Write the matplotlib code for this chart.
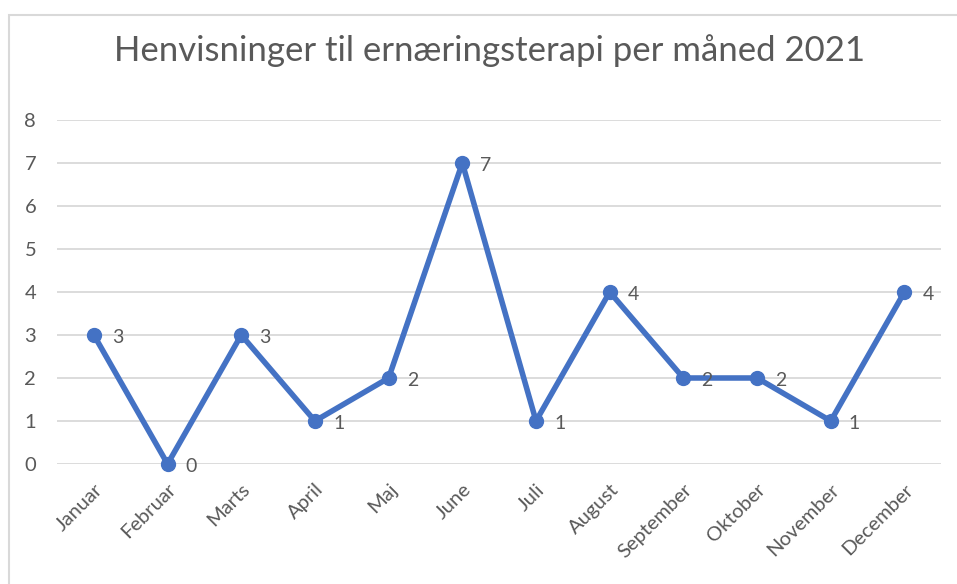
import matplotlib.pyplot as plt
from matplotlib.patches import Rectangle

# data
months = ["Januar", "Februar", "Marts", "April", "Maj", "June", "Juli",
          "August", "September", "Oktober", "November", "December"]
referrals = [3, 0, 3, 1, 2, 7, 1, 4, 2, 2, 1, 4]

plt.rcParams['font.family'] = ['Lato', 'DejaVu Sans']
text_col = "#595959"

fig = plt.figure(figsize=(9.57, 5.84), dpi=100)
ax = fig.add_axes([0.0596, 0.2055, 0.924, 0.589])

# outer chart border (only left and top visible in reference)
fig.patches.append(Rectangle((9 / 957, -0.1), 1.2, 1.1 - 15 / 584,
                             transform=fig.transFigure, fill=False,
                             edgecolor="#D9D9D9", linewidth=1.5))

x = range(len(months))
ax.plot(x, referrals, color="#4472C4", linewidth=4, marker="o",
        markersize=10, zorder=3, clip_on=False)

for xi, v in zip(x, referrals):
    ax.annotate(str(v), (xi, v), xytext=(13, -2), textcoords="offset points",
                ha="left", va="center", fontsize=14, color=text_col)

ax.set_xlim(-0.5, len(months) - 0.5)
ax.set_ylim(0, 8)
ax.set_yticks(range(0, 9))
ax.set_xticks(list(x))
ax.set_xticklabels(months, rotation=45, ha="right", rotation_mode="anchor")
ax.tick_params(axis="both", length=0, labelsize=14.5, labelcolor=text_col)
ax.tick_params(axis="y", pad=15)
ax.tick_params(axis="x", pad=12)
ax.grid(axis="y", color="#D9D9D9", linewidth=1.3)
ax.set_axisbelow(True)
for s in ax.spines.values():
    s.set_visible(False)

fig.text(0.512, 0.913, "Henvisninger til ernæringsterapi per måned 2021",
         ha="center", va="center", fontsize=25, color=text_col)

fig.savefig("out.png", dpi=100)
